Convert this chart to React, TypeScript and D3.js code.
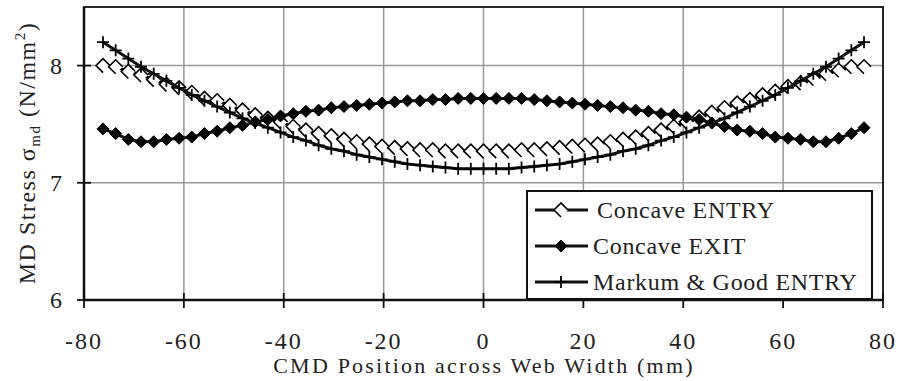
import React from "react";
import * as d3 from "d3";

const XS = [
  -76.2, -73.66, -71.12, -68.58, -66.04, -63.5, -60.96, -58.42, -55.88, -53.34,
  -50.8, -48.26, -45.72, -43.18, -40.64, -38.1, -35.56, -33.02, -30.48, -27.94,
  -25.4, -22.86, -20.32, -17.78, -15.24, -12.7, -10.16, -7.62, -5.08, -2.54, 0,
  2.54, 5.08, 7.62, 10.16, 12.7, 15.24, 17.78, 20.32, 22.86, 25.4, 27.94, 30.48,
  33.02, 35.56, 38.1, 40.64, 43.18, 45.72, 48.26, 50.8, 53.34, 55.88, 58.42,
  60.96, 63.5, 66.04, 68.58, 71.12, 73.66, 76.2,
];

const CONCAVE_ENTRY = [
  8.0, 7.99, 7.95, 7.92, 7.88, 7.84, 7.81, 7.77, 7.72, 7.7, 7.66, 7.62, 7.58,
  7.55, 7.52, 7.48, 7.45, 7.42, 7.4, 7.37, 7.35, 7.33, 7.31, 7.3, 7.29, 7.28,
  7.28, 7.27, 7.27, 7.27, 7.27,
  7.27, 7.27, 7.28, 7.28, 7.29, 7.3, 7.31, 7.32, 7.33, 7.35, 7.37, 7.39, 7.42,
  7.45, 7.48, 7.52, 7.56, 7.6, 7.64, 7.68, 7.71, 7.75, 7.78, 7.82, 7.85, 7.89,
  7.93, 7.96, 7.99, 7.99,
];

const CONCAVE_EXIT = [
  7.46, 7.42, 7.37, 7.35, 7.35, 7.37, 7.38, 7.39, 7.42, 7.44, 7.47, 7.49, 7.52,
  7.54, 7.57, 7.59, 7.61, 7.62, 7.64, 7.65, 7.66, 7.67, 7.68, 7.69, 7.7, 7.7,
  7.71, 7.71, 7.72, 7.72, 7.72,
  7.72, 7.72, 7.72, 7.71, 7.7, 7.69, 7.68, 7.67, 7.66, 7.65, 7.64, 7.62, 7.61,
  7.59, 7.58, 7.56, 7.54, 7.51, 7.48, 7.45, 7.44, 7.42, 7.39, 7.38, 7.37, 7.35,
  7.35, 7.38, 7.42, 7.47,
];

const MARKUM_GOOD_ENTRY = [
  8.2, 8.13, 8.06, 7.99, 7.93, 7.87, 7.81, 7.75, 7.7, 7.65, 7.6, 7.55, 7.51,
  7.47, 7.43, 7.39, 7.36, 7.32, 7.29, 7.27, 7.24, 7.22, 7.2, 7.18, 7.16, 7.15,
  7.14, 7.13, 7.12, 7.12, 7.12,
  7.12, 7.12, 7.13, 7.14, 7.15, 7.16, 7.18, 7.2, 7.22, 7.24, 7.27, 7.29, 7.32,
  7.36, 7.39, 7.43, 7.47, 7.51, 7.55, 7.6, 7.65, 7.7, 7.75, 7.81, 7.87, 7.93,
  7.99, 8.06, 8.13, 8.2,
];

const X_TICKS = [-80, -60, -40, -20, 0, 20, 40, 60, 80];
const Y_TICKS = [6, 7, 8];
const LEGEND_LABELS = ["Concave ENTRY", "Concave EXIT", "Markum & Good ENTRY"];

const W = 902;
const H = 381;
const M = { left: 84, right: 883, top: 7, bottom: 300 };
const FONT = '"Liberation Serif", "DejaVu Serif", serif';

const openDiamond = (h: number) => `M${h},0 L0,${-h} L${-h},0 L0,${h}`;
const filledDiamond = (h: number) => `M${h},0 L0,${-h} L${-h},0 L0,${h} Z`;
const plus = (h: number) => `M${-h},0 L${h},0 M0,${-h} L0,${h}`;

function Marker({ kind, x, y }: { kind: number; x: number; y: number }) {
  if (kind === 0)
    return (
      <path
        d={openDiamond(7)}
        transform={`translate(${x},${y})`}
        fill="#fff"
        stroke="#000"
        strokeWidth={1.6}
      />
    );
  if (kind === 1)
    return (
      <path d={filledDiamond(6)} transform={`translate(${x},${y})`} fill="#000" stroke="#000" strokeWidth={1} />
    );
  return <path d={plus(6)} transform={`translate(${x},${y})`} fill="none" stroke="#000" strokeWidth={1.8} />;
}

export default function App() {
  const x = d3.scaleLinear().domain([-80, 80]).range([M.left, M.right]);
  const y = d3.scaleLinear().domain([6, 8.5]).range([M.bottom, M.top]);
  const series = [CONCAVE_ENTRY, CONCAVE_EXIT, MARKUM_GOOD_ENTRY];
  const line = d3
    .line<number>()
    .x((_, i) => x(XS[i]))
    .y((d) => y(d));

  const legX = 527;
  const legY = 191;
  const legW = 345;
  const legH = 108;
  const rowY = [210, 246, 282];
  const txt = { fontFamily: FONT, fill: "#222" } as React.CSSProperties;

  return (
    <svg
      width={W}
      height={H}
      style={{ position: "absolute", left: 0, top: 0, background: "#fff", fontFamily: FONT }}
    >
      <rect x={0} y={0} width={W} height={H} fill="#fff" />
      {X_TICKS.slice(1, -1).map((t) => (
        <line key={"gx" + t} x1={x(t)} x2={x(t)} y1={M.top} y2={M.bottom} stroke="#999" strokeWidth={1.5} />
      ))}
      {Y_TICKS.slice(1).map((t) => (
        <line key={"gy" + t} x1={M.left} x2={M.right} y1={y(t)} y2={y(t)} stroke="#999" strokeWidth={1.5} />
      ))}
      <rect x={M.left} y={M.top} width={M.right - M.left} height={M.bottom - M.top} fill="none" stroke="#111" strokeWidth={1.8} />
      <line x1={M.left} x2={M.right} y1={M.bottom} y2={M.bottom} stroke="#111" strokeWidth={2.5} />
      <line x1={M.left} x2={M.left} y1={M.top} y2={M.bottom} stroke="#111" strokeWidth={2.5} />
      {X_TICKS.map((t) => (
        <line key={"tx" + t} x1={x(t)} x2={x(t)} y1={M.bottom - 7} y2={M.bottom + 8} stroke="#111" strokeWidth={1.8} />
      ))}
      {Y_TICKS.map((t) => (
        <line key={"ty" + t} x1={M.left - 7} x2={M.left + 7} y1={y(t)} y2={y(t)} stroke="#111" strokeWidth={1.8} />
      ))}
      {X_TICKS.map((t) => (
        <text key={"lx" + t} x={x(t)} y={349} fontSize={24} textAnchor="middle" letterSpacing={2} style={txt}>
          {t}
        </text>
      ))}
      {Y_TICKS.map((t) => (
        <text key={"ly" + t} x={62} y={y(t)} dy="0.35em" fontSize={24} textAnchor="end" style={txt}>
          {t}
        </text>
      ))}
      <text x={484} y={373} fontSize={22} textAnchor="middle" letterSpacing={2.2} style={txt}>
        CMD Position across Web Width (mm)
      </text>
      <text transform="translate(35,153) rotate(-90)" fontSize={24} textAnchor="middle" letterSpacing={1.5} style={txt}>
        MD Stress σ<tspan fontSize={15} dy={5}>md</tspan>
        <tspan dy={-5}> (N/mm</tspan>
        <tspan fontSize={15} dy={-10}>2</tspan>
        <tspan dy={10}>)</tspan>
      </text>
      {series.map((s, si) => (
        <g key={"s" + si}>
          <path d={line(s) || ""} fill="none" stroke="#111" strokeWidth={3} />
          {s.map((v, i) => (
            <Marker key={i} kind={si} x={x(XS[i])} y={y(v)} />
          ))}
        </g>
      ))}
      <rect x={legX} y={legY} width={legW} height={legH} fill="#fff" stroke="#111" strokeWidth={2} />
      {LEGEND_LABELS.map((lab, i) => (
        <g key={"lg" + i}>
          <line x1={535} x2={588} y1={rowY[i]} y2={rowY[i]} stroke="#111" strokeWidth={3} />
          <Marker kind={i} x={561} y={rowY[i]} />
          <text x={i === 0 ? 597 : 593} y={rowY[i]} dy="0.35em" fontSize={24} letterSpacing={0.7} style={txt}>
            {lab}
          </text>
        </g>
      ))}
    </svg>
  );
}
